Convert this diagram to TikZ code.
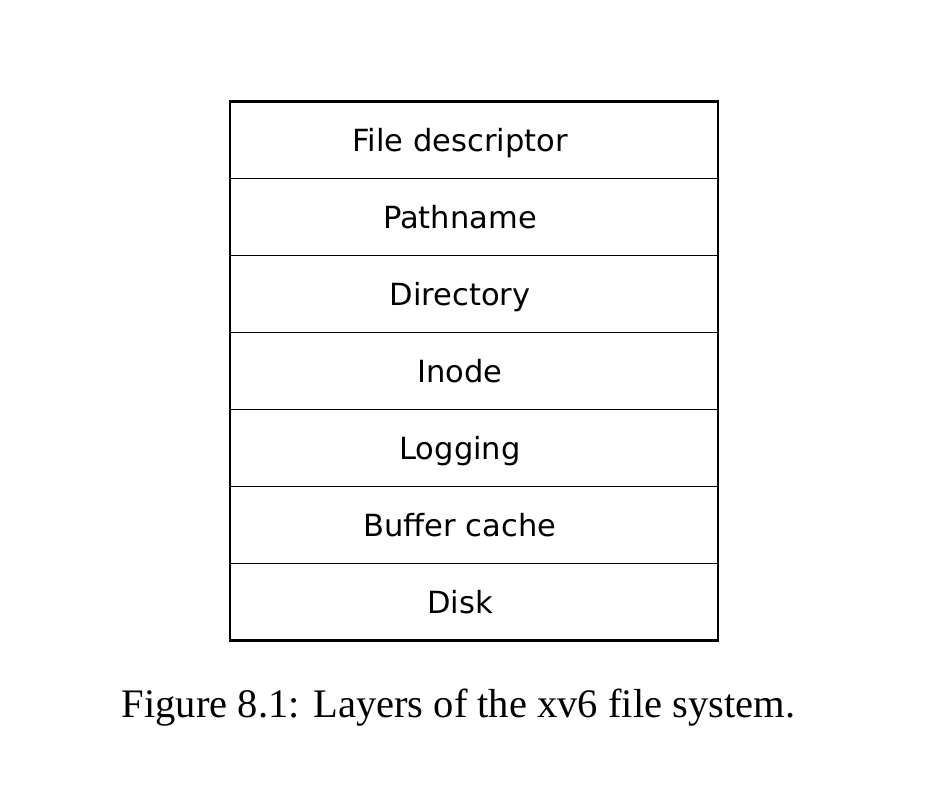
\documentclass[tikz,border=0pt]{standalone}
\usepackage{fontspec}
\setmainfont{Liberation Serif}
\newfontfamily\layerfont{DejaVu Sans}
\usetikzlibrary{positioning}

\begin{document}
\begin{tikzpicture}[x=0.75pt, y=-0.75pt,
    layer/.style={draw, line width=0.7pt, minimum width=366pt, minimum height=57.75pt,
        inner sep=0pt, outer sep=0pt},
    layertext/.style={font=\layerfont\fontsize{22.9}{27}\selectfont,
        text height=16.7pt, text depth=0pt, inner sep=0pt, xshift=-10.5pt, yshift=-0.6pt}]
    \useasboundingbox (0,0) rectangle (928,807);
    % LAYERS
    \node[layer, label={[layertext]center:File descriptor}] (fd) at (474,140) {};
    \node[layer, below=0pt of fd, label={[layertext]center:Pathname}] (path) {};
    \node[layer, below=0pt of path, label={[layertext]center:Directory}] (dir) {};
    \node[layer, below=0pt of dir, label={[layertext]center:Inode}] (inode) {};
    \node[layer, below=0pt of inode, label={[layertext]center:Logging}] (log) {};
    \node[layer, below=0pt of log, label={[layertext]center:Buffer cache}] (buf) {};
    \node[layer, below=0pt of buf, label={[layertext]center:Disk}] (disk) {};
    % OUTER FRAME
    \draw[line width=1.6pt] (fd.north west) rectangle (disk.south east);
    % CAPTION
    \node[anchor=base, inner sep=0pt, font=\fontsize{30.4}{35}\selectfont] (caption) at (458.5,717)
        {Figure 8.1: Layers of the xv6 file system.};
\end{tikzpicture}
\end{document}
